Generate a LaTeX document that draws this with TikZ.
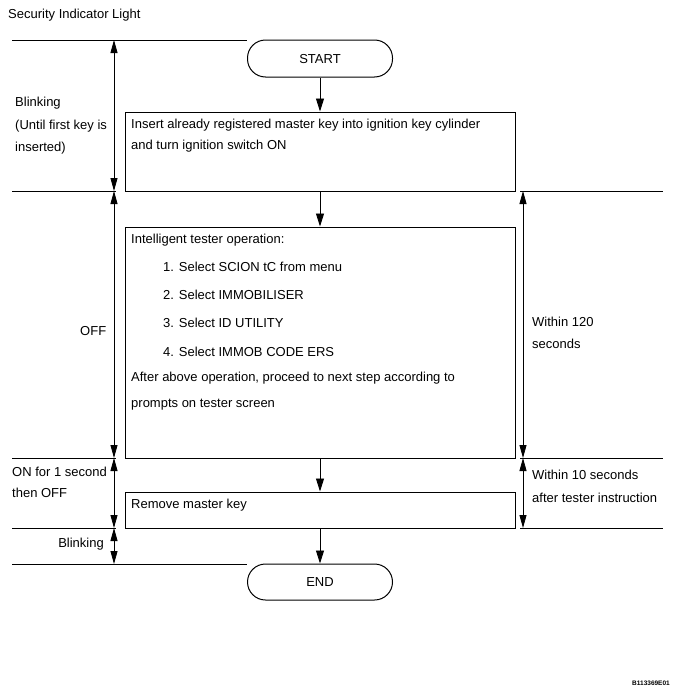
\documentclass[tikz,border=0pt]{standalone}
\usepackage{fontspec}
\setmainfont{Liberation Sans}
\usetikzlibrary{arrows.meta}
\begin{document}
\begin{tikzpicture}[x=1pt,y=-1pt,
  txt/.style={anchor=base west,inner sep=0pt,font=\fontsize{13}{15}\selectfont},
  ctxt/.style={anchor=base,inner sep=0pt,font=\fontsize{13}{15}\selectfont},
  box/.style={draw,line width=1pt,inner sep=0pt},
  pill/.style={draw,line width=1pt,inner sep=0pt,minimum width=145pt,minimum height=37pt,rounded corners=18pt},
  arr/.style={line width=0.9pt,-{Triangle[length=13pt,width=8pt]}},
  dbl/.style={line width=0.8pt,{Triangle[length=13pt,width=7pt]}-{Triangle[length=13pt,width=7pt]}},
  hline/.style={line width=0.7pt}]
\useasboundingbox (0,0) rectangle (679,696);
\fill[white] (0,0) rectangle (679,696);

% title
\node[txt] (title) at (8,19) {Security Indicator Light};

% horizontal lines
\draw[hline] (12,40) -- (247,40);
\draw[hline] (12,191) -- (116,191);
\draw[hline] (520,191) -- (663,191);
\draw[hline] (12,458) -- (116,458);
\draw[hline] (520,458) -- (663,458);
\draw[hline] (12,528) -- (116,528);
\draw[hline] (520,528) -- (663,528);
\draw[hline] (12,564) -- (247,564);

% flow nodes
\node[pill] (start) at (320,58.5) {};
\node[box,minimum width=390pt,minimum height=79pt] (b1) at (320,151.5) {};
\node[box,minimum width=390pt,minimum height=231pt] (b2) at (320,342.5) {};
\node[box,minimum width=390pt,minimum height=36pt] (b3) at (320,510) {};
\node[pill,minimum height=36pt] (end) at (320,582) {};

\node[ctxt] (starttxt) at (320,63) {START};
\node[ctxt] (endtxt) at (320,586) {END};

\node[txt] (t1a) at (131,128) {Insert already registered master key into ignition key cylinder};
\node[txt] (t1b) at (131,149) {and turn ignition switch ON};

\node[txt] (t2a) at (131,243) {Intelligent tester operation:};
\node[txt] (t2b) at (163,271) {1. Select SCION tC from menu};
\node[txt] (t2c) at (163,299) {2. Select IMMOBILISER};
\node[txt] (t2d) at (163,327) {3. Select ID UTILITY};
\node[txt] (t2e) at (163,356) {4. Select IMMOB CODE ERS};
\node[txt] (t2f) at (131,381) {After above operation, proceed to next step according to};
\node[txt] (t2g) at (131,407) {prompts on tester screen};

\node[txt] (t3) at (131,508) {Remove master key};

% flow arrows
\draw[arr] (start) -- (b1);
\draw[arr] (b1) -- (b2);
\draw[arr] (b2) -- (b3);
\draw[arr] (b3) -- (end);

% left timing arrows
\coordinate (L0) at (114,40);
\coordinate (L1) at (114,191);
\coordinate (L2) at (114,458);
\coordinate (L3) at (114,528);
\coordinate (L4) at (114,564);
\draw[dbl] (L0) -- (L1);
\draw[dbl] (L1) -- (L2);
\draw[dbl] (L2) -- (L3);
\draw[dbl] (L3) -- (L4);

% right timing arrows
\coordinate (R1) at (523,191);
\coordinate (R2) at (523,458);
\coordinate (R3) at (523,528);
\draw[dbl] (R1) -- (R2);
\draw[dbl] (R2) -- (R3);

% left labels
\node[txt] (lb1) at (15,106) {Blinking};
\node[txt] (lb2) at (15,129) {(Until first key is};
\node[txt] (lb3) at (15,151) {inserted)};
\node[txt] (loff) at (80,335) {OFF};
\node[txt] (lon1) at (12,476) {ON for 1 second};
\node[txt] (lon2) at (12,497) {then OFF};
\node[anchor=base east,inner sep=0pt,font=\fontsize{13}{15}\selectfont] (lbl) at (104,547) {Blinking};

% right labels
\node[txt] (r1a) at (532,326) {Within 120};
\node[txt] (r1b) at (532,348) {seconds};
\node[txt] (r2a) at (532,479) {Within 10 seconds};
\node[txt] (r2b) at (532,502) {after tester instruction};

% figure code
\node[anchor=base east,inner sep=0pt,font=\fontsize{6.5}{8}\selectfont\bfseries] (code) at (670,685) {B113369E01};
\end{tikzpicture}
\end{document}
